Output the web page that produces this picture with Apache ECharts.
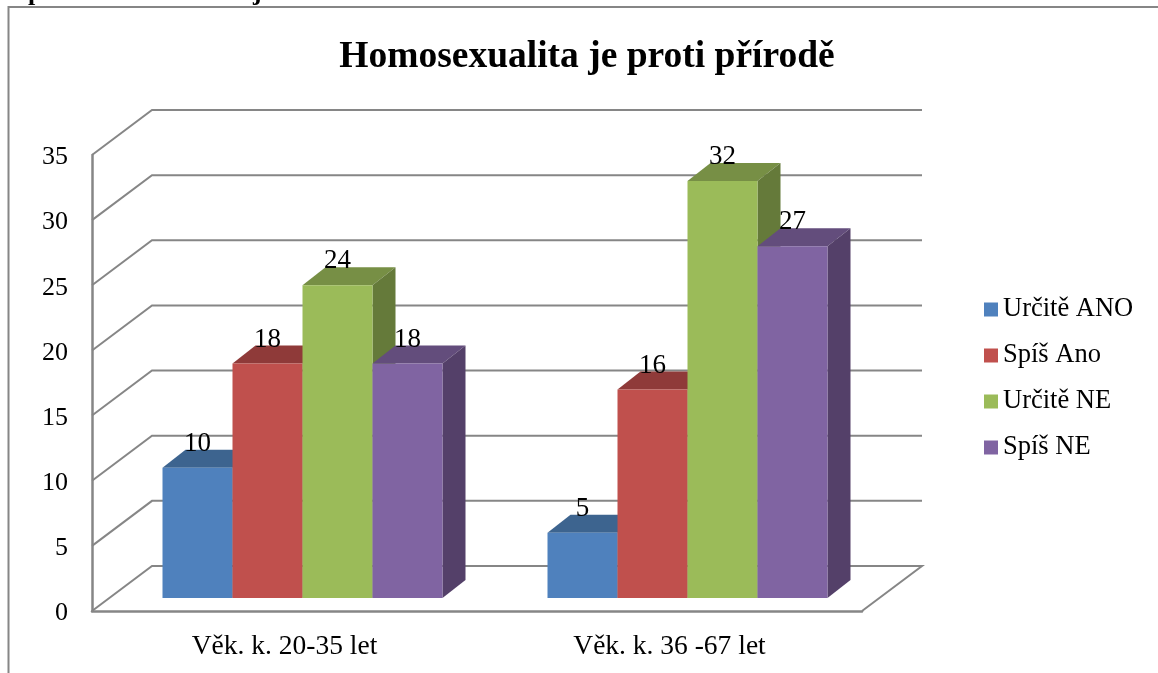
<!DOCTYPE html>
<html>
<head>
<meta charset="utf-8">
<style>
  html, body { margin: 0; padding: 0; background: #fff; }
  #chart { width: 1158px; height: 673px; }
</style>
<script src="https://cdn.jsdelivr.net/npm/echarts@6/dist/echarts.min.js"></script>
</head>
<body>
<div id="chart"></div>
<script>
var categories = ['Věk. k. 20-35 let', 'Věk. k. 36 -67 let']
var seriesNames = ['Určitě ANO', 'Spíš Ano', 'Určitě NE', 'Spíš NE']
var urciteAno = [10, 5]
var spisAno = [18, 16]
var urciteNe = [24, 32]
var spisNe = [18, 27]
var yTicks = [0, 5, 10, 15, 20, 25, 30, 35]

var frontColors = ['#4f81bd', '#c0504d', '#9bbb59', '#8064a2']
var topColors = ['#3d648f', '#8f3a39', '#778f45', '#634d7c']
var sideColors = ['#335475', '#7a302e', '#657a3a', '#544069']

var serifFont = '"Liberation Serif", "Times New Roman", serif'
var lineColor = '#868686'

// hloubka steny a sloupcu v pixelech
var wallDx = 60
var wallDy = 45
var barDx = 23
var barDy = 18
var planeDx = 18
var planeDy = 13
var barWidth = 70

function renderWall (params, api) {
  var rect = params.coordSys
  var y = api.coord([0, api.value(1)])[1]
  var x0 = rect.x
  var x1 = rect.x + rect.width
  var points = [[x0, y], [x0 + wallDx, y - wallDy], [x1 + wallDx, y - wallDy]]
  // podlaha je uzavrena sikmou carou vpravo
  if (api.value(1) === 0) points.push([x1, y])
  return {
    type: 'polyline',
    shape: { points: points },
    style: { fill: 'none', stroke: lineColor, lineWidth: 2 }
  }
}

function makeBarRenderer (index) {
  return function (params, api) {
    var value = api.value(1)
    var top = api.coord([api.value(0), value])
    var base = api.coord([api.value(0), 0])
    var x0 = top[0] + planeDx + (index - 2) * barWidth
    var x1 = x0 + barWidth
    var yTop = top[1] - planeDy
    var yBase = base[1] - planeDy
    return {
      type: 'group',
      children: [
        {
          type: 'polygon',
          shape: { points: [[x0, yTop], [x1, yTop], [x1 + barDx, yTop - barDy], [x0 + barDx, yTop - barDy]] },
          style: { fill: topColors[index] }
        },
        {
          type: 'polygon',
          shape: { points: [[x1, yTop], [x1 + barDx, yTop - barDy], [x1 + barDx, yBase - barDy], [x1, yBase]] },
          style: { fill: sideColors[index] }
        },
        {
          type: 'rect',
          shape: { x: x0, y: yTop, width: barWidth, height: yBase - yTop },
          style: { fill: frontColors[index] }
        },
        {
          type: 'text',
          z2: 100,
          style: {
            x: (x0 + x1) / 2,
            y: yTop - 24,
            text: String(value),
            fill: '#000',
            font: '27px ' + serifFont,
            align: 'center',
            verticalAlign: 'middle'
          }
        }
      ]
    }
  }
}

function toPoints (values) {
  return values.map(function (v, i) { return [i, v] })
}

var seriesValues = [urciteAno, spisAno, urciteNe, spisNe]
var series = [{
  type: 'custom',
  name: 'stena',
  silent: true,
  z: 1,
  renderItem: renderWall,
  encode: { x: 0, y: 1 },
  data: yTicks.map(function (v) { return [0, v] })
}]
seriesValues.forEach(function (values, i) {
  series.push({
    type: 'custom',
    name: seriesNames[i],
    z: 2 + i,
    itemStyle: { color: frontColors[i] },
    renderItem: makeBarRenderer(i),
    encode: { x: 0, y: 1 },
    data: toPoints(values)
  })
})

var chart = echarts.init(document.getElementById('chart'))
chart.setOption({
  backgroundColor: '#fff',
  animation: false,
  title: {
    text: 'Homosexualita je proti přírodě',
    left: 582,
    top: 33,
    textAlign: 'center',
    textStyle: { fontFamily: serifFont, fontWeight: 'bold', fontSize: 37.5, color: '#000' }
  },
  legend: {
    data: seriesNames,
    orient: 'vertical',
    left: 984,
    top: 296,
    padding: 0,
    icon: 'rect',
    itemWidth: 14,
    itemHeight: 14,
    itemGap: 19,
    selectedMode: false,
    textStyle: { fontFamily: serifFont, fontSize: 26.5, color: '#000' }
  },
  grid: { left: 92, top: 155, width: 770, height: 456 },
  xAxis: {
    type: 'category',
    data: categories,
    axisLine: { lineStyle: { color: lineColor, width: 2.5 } },
    axisTick: { show: false },
    splitLine: { show: false },
    axisLabel: { margin: 22, fontFamily: serifFont, fontSize: 27.5, color: '#000' }
  },
  yAxis: {
    type: 'value',
    min: 0,
    max: 35,
    interval: 5,
    axisLine: { show: true, lineStyle: { color: lineColor, width: 2.5 } },
    axisTick: { show: false },
    splitLine: { show: false },
    axisLabel: {
      margin: 24,
      formatter: '{t|{value}}',
      rich: { t: { fontFamily: serifFont, fontSize: 26, color: '#000', padding: [5, 0, 0, 0] } }
    }
  },
  graphic: [
    {
      type: 'polyline',
      silent: true,
      shape: { points: [[8.5, 673], [8.5, 7], [1158, 7]] },
      style: { fill: 'none', stroke: lineColor, lineWidth: 2 }
    },
    // ze seknuteho radku nad grafem zbyly jen dotahy pismen
    {
      type: 'text',
      silent: true,
      style: { x: 28, y: 6, text: 'p', fill: '#000', font: 'bold 26px ' + serifFont, verticalAlign: 'bottom' }
    },
    {
      type: 'text',
      silent: true,
      style: { x: 253, y: 6, text: 'j', fill: '#000', font: 'bold 26px ' + serifFont, verticalAlign: 'bottom' }
    }
  ],
  series: series
})
</script>
</body>
</html>
